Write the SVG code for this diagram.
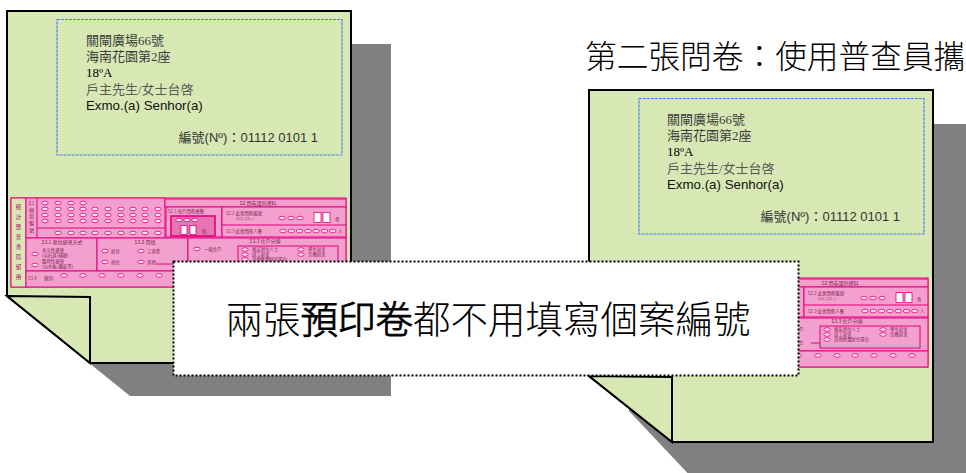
<svg xmlns="http://www.w3.org/2000/svg" xmlns:xlink="http://www.w3.org/1999/xlink" width="966" height="473" viewBox="0 0 966 473">
<style>
.shadow{fill:#808080}
.paper{fill:#d8e8b4;stroke:#000;stroke-width:2;stroke-linejoin:miter}
.addr{fill:none;stroke:#4f7ee8;stroke-width:1.2;stroke-dasharray:3 1}
.t{font-family:"Liberation Serif","Noto Sans CJK TC",serif;font-size:13px;fill:#3c3c3c}
.s{font-family:"Liberation Sans","Noto Sans CJK TC",sans-serif;font-size:13px;fill:#111}
.f{fill:#f4a0ce;stroke:#e4007f;stroke-width:1}
.fd{fill:#e874b3;stroke:#e4007f;stroke-width:1.6}
.fl{stroke:#e4007f;stroke-width:1;fill:none}
.o{fill:#fbe3ef;stroke:#e4007f;stroke-width:0.8}
.w{fill:#ffffff;stroke:#e4007f;stroke-width:0.8}
.ft{font-family:"Noto Sans CJK TC",sans-serif;font-size:4.4px;fill:#7a2455}
.fh{font-family:"Noto Sans CJK TC",sans-serif;font-size:5px;fill:#7a2455}
.fv{font-family:"Noto Sans CJK TC",sans-serif;font-size:5.6px;fill:#c0006a}
.big{font-family:"Noto Sans CJK TC",sans-serif;fill:#000}
</style>

<g id="sheet-1">
  <polygon class="shadow" points="47,44 391,44 391,396 130,396 47,329"/>
  <polygon class="paper" points="7,11 351,11 351,363 90,363 7,296"/>
  <polygon class="paper" points="7,296 90,297 90,363"/>
  <rect class="addr" x="57" y="19.5" width="285" height="135.5"/>
  <text class="t" x="86" y="45">關閘廣場66號</text>
  <text class="t" x="86" y="61">海南花園第2座</text>
  <text class="t" x="86" y="77" style="fill:#000">18ºA</text>
  <text class="t" x="86" y="94" style="fill:#595959">戶主先生/女士台啓</text>
  <text class="s" x="86" y="110" style="font-size:13.3px">Exmo.(a) Senhor(a)</text>
  <text class="s" x="318" y="142" text-anchor="end" style="fill:#333">編號(Nº)：01112 0101 1</text>
  <g id="form-1">
    <rect class="f" x="11" y="198" width="335" height="89"/>
    <rect x="11" y="198" width="15" height="89" fill="#d8e8b4" stroke="#e4007f" stroke-width="1"/>
    <text class="fv" text-anchor="middle"><tspan x="18.5" y="209">統</tspan><tspan x="18.5" y="219">計</tspan><tspan x="18.5" y="229">暨</tspan><tspan x="18.5" y="239">普</tspan><tspan x="18.5" y="248.5">查</tspan><tspan x="18.5" y="258.5">局</tspan><tspan x="18.5" y="268.5">留</tspan><tspan x="18.5" y="279">用</tspan></text>
    <!-- S1 -->
    <rect class="f" x="26" y="198" width="139" height="40"/>
    <line class="fl" x1="37" y1="198" x2="37" y2="238"/>
    <line class="fl" x1="37" y1="228" x2="165" y2="228"/>
    <text class="fh" text-anchor="middle"><tspan x="31.5" y="204.5">S1</tspan><tspan x="31.5" y="211.5">個</tspan><tspan x="31.5" y="218">案</tspan><tspan x="31.5" y="224.5">編</tspan><tspan x="31.5" y="232">號</tspan></text>
    <g>
      <ellipse class="o" cx="45" cy="203" rx="3.2" ry="1.8"/><ellipse class="o" cx="58" cy="203" rx="3.2" ry="1.8"/><ellipse class="o" cx="71" cy="203" rx="3.2" ry="1.8"/><ellipse class="o" cx="83" cy="203" rx="3.2" ry="1.8"/>
      <ellipse class="o" cx="45" cy="209" rx="3.2" ry="1.8"/><ellipse class="o" cx="58" cy="209" rx="3.2" ry="1.8"/><ellipse class="o" cx="71" cy="209" rx="3.2" ry="1.8"/><ellipse class="o" cx="83" cy="209" rx="3.2" ry="1.8"/><ellipse class="o" cx="95" cy="209" rx="3.2" ry="1.8"/><ellipse class="o" cx="108" cy="209" rx="3.2" ry="1.8"/><ellipse class="o" cx="121" cy="209" rx="3.2" ry="1.8"/><ellipse class="o" cx="133" cy="209" rx="3.2" ry="1.8"/><ellipse class="o" cx="145" cy="209" rx="3.2" ry="1.8"/><ellipse class="o" cx="158" cy="209" rx="3.2" ry="1.8"/>
      <ellipse class="o" cx="45" cy="215" rx="3.2" ry="1.8"/><ellipse class="o" cx="58" cy="215" rx="3.2" ry="1.8"/><ellipse class="o" cx="71" cy="215" rx="3.2" ry="1.8"/><ellipse class="o" cx="83" cy="215" rx="3.2" ry="1.8"/><ellipse class="o" cx="95" cy="215" rx="3.2" ry="1.8"/><ellipse class="o" cx="108" cy="215" rx="3.2" ry="1.8"/><ellipse class="o" cx="121" cy="215" rx="3.2" ry="1.8"/><ellipse class="o" cx="133" cy="215" rx="3.2" ry="1.8"/><ellipse class="o" cx="145" cy="215" rx="3.2" ry="1.8"/><ellipse class="o" cx="158" cy="215" rx="3.2" ry="1.8"/>
      <ellipse class="o" cx="45" cy="221" rx="3.2" ry="1.8"/><ellipse class="o" cx="58" cy="221" rx="3.2" ry="1.8"/><ellipse class="o" cx="71" cy="221" rx="3.2" ry="1.8"/><ellipse class="o" cx="83" cy="221" rx="3.2" ry="1.8"/><ellipse class="o" cx="95" cy="221" rx="3.2" ry="1.8"/><ellipse class="o" cx="108" cy="221" rx="3.2" ry="1.8"/><ellipse class="o" cx="121" cy="221" rx="3.2" ry="1.8"/><ellipse class="o" cx="133" cy="221" rx="3.2" ry="1.8"/><ellipse class="o" cx="145" cy="221" rx="3.2" ry="1.8"/><ellipse class="o" cx="158" cy="221" rx="3.2" ry="1.8"/>
      <ellipse class="o" cx="58" cy="233" rx="3.2" ry="1.8"/><ellipse class="o" cx="71" cy="233" rx="3.2" ry="1.8"/><ellipse class="o" cx="83" cy="233" rx="3.2" ry="1.8"/><ellipse class="o" cx="95" cy="233" rx="3.2" ry="1.8"/><ellipse class="o" cx="108" cy="233" rx="3.2" ry="1.8"/><ellipse class="o" cx="121" cy="233" rx="3.2" ry="1.8"/><ellipse class="o" cx="133" cy="233" rx="3.2" ry="1.8"/><ellipse class="o" cx="145" cy="233" rx="3.2" ry="1.8"/><ellipse class="o" cx="158" cy="233" rx="3.2" ry="1.8"/>
    </g>
    <!-- S2 -->
    <rect class="f" x="165" y="199" width="181" height="8"/>
    <text class="fh" x="258" y="205" text-anchor="middle">S2 問卷識別資料</text>
    <rect class="f" x="166" y="207" width="56" height="30"/>
    <text class="ft" x="168" y="213">S2.1 每戶問卷總數</text>
    <rect class="fd" x="171" y="216" width="44" height="20"/>
    <ellipse class="o" cx="179" cy="220" rx="3.2" ry="1.8"/><ellipse class="o" cx="187" cy="220" rx="3.2" ry="1.8"/><ellipse class="o" cx="195" cy="220" rx="3.2" ry="1.8"/>
    <rect class="w" x="181" y="225.5" width="6" height="9"/><rect class="w" x="190" y="225.5" width="6" height="9"/>
    <text class="ft" x="202" y="233">張</text>
    <rect class="f" x="222" y="207" width="124" height="30"/>
    <line class="fl" x1="222" y1="225" x2="346" y2="225"/>
    <text class="ft" x="226" y="214.5">S2.2 此張問卷編號</text>
    <text class="ft" x="236" y="219.5" style="font-size:3.6px">(1/2, 2/2...)</text>
    <ellipse class="o" cx="282" cy="218" rx="3.2" ry="1.8"/><ellipse class="o" cx="291" cy="218" rx="3.2" ry="1.8"/><ellipse class="o" cx="300" cy="218" rx="3.2" ry="1.8"/>
    <rect class="w" x="314" y="212.5" width="7" height="10"/><rect class="w" x="323" y="212.5" width="7" height="10"/>
    <text class="ft" x="335" y="221">張</text>
    <text class="ft" x="226" y="232.5">S2.3 此張問卷人數</text>
    <ellipse class="o" cx="283" cy="231" rx="3.2" ry="1.8"/><ellipse class="o" cx="291.3" cy="231" rx="3.2" ry="1.8"/><ellipse class="o" cx="299.6" cy="231" rx="3.2" ry="1.8"/><ellipse class="o" cx="307.9" cy="231" rx="3.2" ry="1.8"/><ellipse class="o" cx="316.2" cy="231" rx="3.2" ry="1.8"/><ellipse class="o" cx="324.5" cy="231" rx="3.2" ry="1.8"/><ellipse class="o" cx="332.8" cy="231" rx="3.2" ry="1.8"/>
    <text class="ft" x="338" y="233">人</text>
    <!-- S3 row -->
    <rect class="f" x="26" y="238" width="71" height="33"/>
    <text class="fh" x="62" y="243.5" text-anchor="middle">S3.1 單位建築方式</text>
    <ellipse class="o" cx="35" cy="254" rx="3.2" ry="1.8"/>
    <text class="ft" x="42" y="251.5">永久性建築</text><text class="ft" x="42" y="256.5">(以石屎/磚建)</text>
    <ellipse class="o" cx="35" cy="265" rx="3.2" ry="1.8"/>
    <text class="ft" x="42" y="262.5">臨時性建築</text><text class="ft" x="42" y="267.5">(以木板/鐵皮等)</text>
    <rect class="f" x="97" y="238" width="91" height="33"/>
    <text class="fh" x="145" y="243.5" text-anchor="middle">S3.2 用途</text>
    <ellipse class="o" cx="105" cy="251" rx="3.2" ry="1.8"/><text class="ft" x="111" y="252.5">居住</text>
    <ellipse class="o" cx="141" cy="251" rx="3.2" ry="1.8"/><text class="ft" x="147" y="252.5">工商業</text>
    <ellipse class="o" cx="105" cy="262" rx="3.2" ry="1.8"/><text class="ft" x="111" y="263.5">商住</text>
    <ellipse class="o" cx="141" cy="262" rx="3.2" ry="1.8"/><text class="ft" x="147" y="263.5">其他</text>
    <line class="fl" x1="156" y1="264" x2="175" y2="264" stroke-width="0.6"/>
    <rect class="f" x="188" y="238" width="158" height="33"/>
    <text class="fh" x="265" y="243" text-anchor="middle">S3.3 住戶分類</text>
    <ellipse class="o" cx="197" cy="249" rx="3.2" ry="1.8"/><text class="ft" x="204" y="250.5">一般住戶</text>
    <ellipse class="o" cx="197" cy="263" rx="3.2" ry="1.8"/><text class="ft" x="204" y="264.5">集體住戶</text>
    <line class="fl" x1="229" y1="263" x2="238" y2="263"/>
    <rect class="f" x="238" y="246" width="100" height="22"/>
    <ellipse class="o" cx="245" cy="249.5" rx="3.2" ry="1.8"/><text class="ft" x="252" y="251">親友寄住人士</text>
    <ellipse class="o" cx="245" cy="254.5" rx="3.2" ry="1.8"/><text class="ft" x="252" y="256">員工宿舍</text>
    <ellipse class="o" cx="245" cy="259.5" rx="3.2" ry="1.8"/><text class="ft" x="252" y="261">其他集體居住單位</text>
    <ellipse class="o" cx="301" cy="249.5" rx="3.2" ry="1.8"/><text class="ft" x="308" y="251">學生宿舍</text>
    <ellipse class="o" cx="301" cy="254.5" rx="3.2" ry="1.8"/><text class="ft" x="308" y="256">宗教宿舍</text>
    <!-- S3.4 row -->
    <rect class="f" x="26" y="271" width="320" height="16"/>
    <text class="ft" x="28" y="279.5">S3.4</text>
    <text class="ft" x="44" y="279.5">類別:</text>
    <g>
      <ellipse class="o" cx="64" cy="275.5" rx="3.2" ry="1.8"/><ellipse class="o" cx="83" cy="275.5" rx="3.2" ry="1.8"/><ellipse class="o" cx="102" cy="275.5" rx="3.2" ry="1.8"/><ellipse class="o" cx="121" cy="275.5" rx="3.2" ry="1.8"/><ellipse class="o" cx="140" cy="275.5" rx="3.2" ry="1.8"/><ellipse class="o" cx="159" cy="275.5" rx="3.2" ry="1.8"/><ellipse class="o" cx="178" cy="275.5" rx="3.2" ry="1.8"/><ellipse class="o" cx="197" cy="275.5" rx="3.2" ry="1.8"/><ellipse class="o" cx="216" cy="275.5" rx="3.2" ry="1.8"/><ellipse class="o" cx="236" cy="275.5" rx="3.2" ry="1.8"/><ellipse class="o" cx="255" cy="275.5" rx="3.2" ry="1.8"/><ellipse class="o" cx="273" cy="275.5" rx="3.2" ry="1.8"/><ellipse class="o" cx="292" cy="275.5" rx="3.2" ry="1.8"/><ellipse class="o" cx="311" cy="275.5" rx="3.2" ry="1.8"/><ellipse class="o" cx="330" cy="275.5" rx="3.2" ry="1.8"/>
    </g>
  </g>
</g>

<g id="sheet-2" transform="translate(582,79)">
  <polygon class="shadow" points="47,45 391,45 391,420 130,420 47,332"/>
  <polygon class="paper" points="7,11 351,11 351,363 90,363 7,297"/>
  <polygon class="paper" points="7,297 90,298 90,363"/>
  <rect class="addr" x="57" y="19.5" width="285" height="135.5"/>
  <text class="t" x="85" y="45">關閘廣場66號</text>
  <text class="t" x="85" y="61">海南花園第2座</text>
  <text class="t" x="85" y="77" style="fill:#000">18ºA</text>
  <text class="t" x="85" y="94" style="fill:#595959">戶主先生/女士台啓</text>
  <text class="s" x="85" y="110" style="font-size:13.3px">Exmo.(a) Senhor(a)</text>
  <text class="s" x="318" y="142" text-anchor="end" style="fill:#333">編號(Nº)：01112 0101 1</text>
  <use xlink:href="#form-1" href="#form-1" y="1"/>
</g>

<g id="title">
  <text class="big" x="585" y="68" style="font-size:31.7px;font-weight:300">第二張問卷：使用普查員攜</text>
</g>

<g id="note">
  <rect x="173.5" y="261.5" width="625" height="114" fill="#ffffff" stroke="#000" stroke-width="2" stroke-dasharray="2 2"/>
  <text class="big" x="488" y="333" text-anchor="middle" style="font-size:37.5px;font-weight:300">兩張<tspan style="stroke:#000;stroke-width:0.9">預印卷</tspan>都不用填寫個案編號</text>
</g>

<g id="connectors"/>
</svg>
